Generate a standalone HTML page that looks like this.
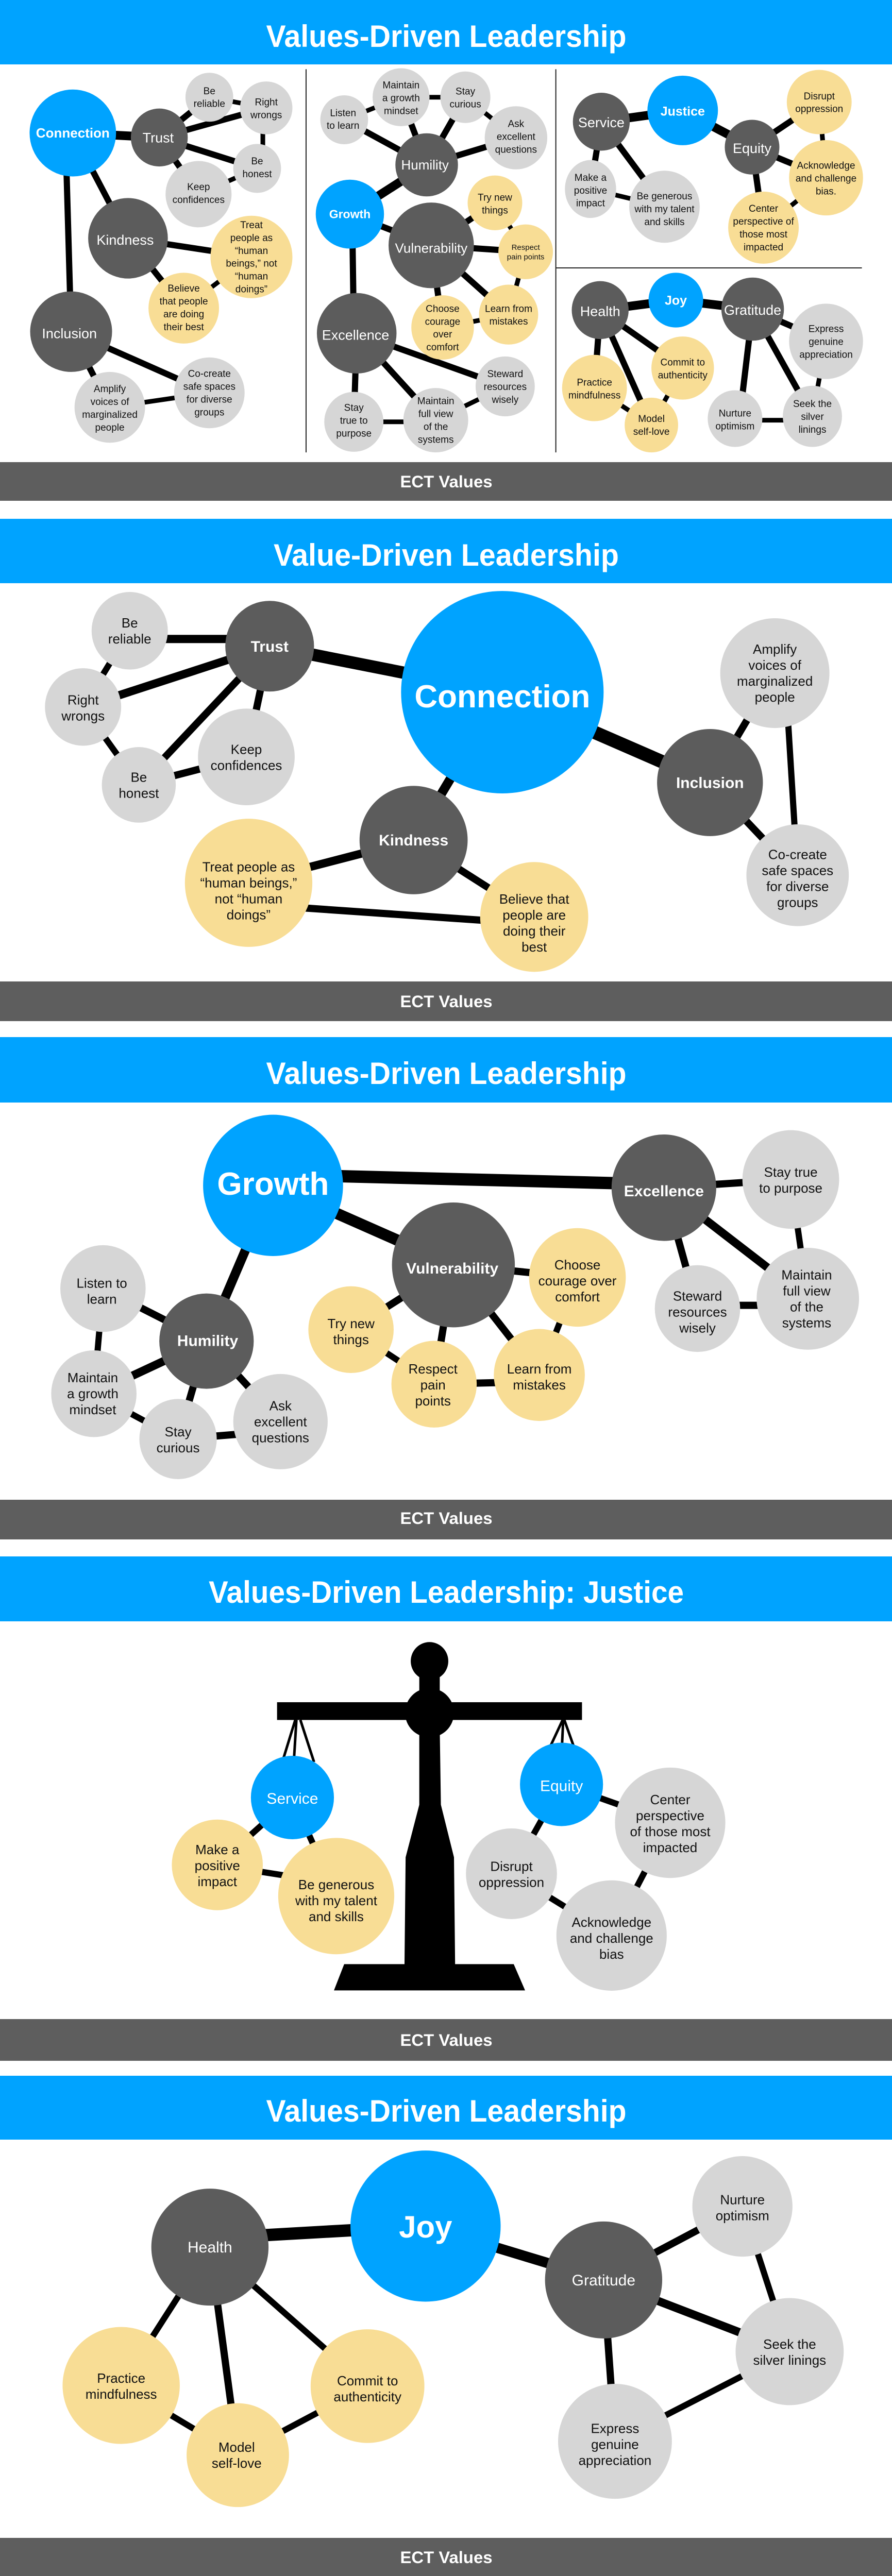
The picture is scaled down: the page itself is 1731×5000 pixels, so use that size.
<!DOCTYPE html>
<html><head><meta charset="utf-8">
<style>
html,body{margin:0;padding:0;background:#fff;}
svg{display:block;}
text{font-family:"Liberation Sans Narrow","Liberation Sans",Arial,sans-serif;text-anchor:middle;}
.w{fill:#fff}.k{fill:#111}.b{font-weight:bold}
.e line{stroke:#000;vector-effect:non-scaling-stroke;stroke-width:12}
.e line.t{stroke-width:17}
.e line.n{stroke-width:9}
.bl{fill:#00a3ff}.dk{fill:#5c5c5c}.gr{fill:#d6d6d6}.ye{fill:#f8dd95}
</style></head><body>
<svg width="1731" height="5000" viewBox="0 0 1731 5000" xmlns="http://www.w3.org/2000/svg">
<rect width="1731" height="5000" fill="#fff"/>
<!-- bars -->
<rect x="0" y="0" width="1731" height="125" fill="#00a3ff"/>
<rect x="0" y="897" width="1731" height="75" fill="#5e5e5e"/>
<rect x="0" y="1007" width="1731" height="125" fill="#00a3ff"/>
<rect x="0" y="1905" width="1731" height="77" fill="#5e5e5e"/>
<rect x="0" y="2013" width="1731" height="127" fill="#00a3ff"/>
<rect x="0" y="2911" width="1731" height="77" fill="#5e5e5e"/>
<rect x="0" y="3021" width="1731" height="126" fill="#00a3ff"/>
<rect x="0" y="3919" width="1731" height="81" fill="#5e5e5e"/>
<rect x="0" y="4029" width="1731" height="124" fill="#00a3ff"/>
<rect x="0" y="4926" width="1731" height="74" fill="#5e5e5e"/>
<g class="w b">
<text x="866" y="91" font-size="60" textLength="699" lengthAdjust="spacingAndGlyphs">Values-Driven Leadership</text>
<text x="866" y="1098" font-size="60" textLength="670" lengthAdjust="spacingAndGlyphs">Value-Driven Leadership</text>
<text x="866" y="2104" font-size="60" textLength="699" lengthAdjust="spacingAndGlyphs">Values-Driven Leadership</text>
<text x="866" y="3111" font-size="60" textLength="922" lengthAdjust="spacingAndGlyphs">Values-Driven Leadership: Justice</text>
<text x="866" y="4118" font-size="60" textLength="699" lengthAdjust="spacingAndGlyphs">Values-Driven Leadership</text>
<text x="866" y="946" font-size="32" textLength="179" lengthAdjust="spacingAndGlyphs">ECT Values</text>
<text x="866" y="1955" font-size="32" textLength="179" lengthAdjust="spacingAndGlyphs">ECT Values</text>
<text x="866" y="2958" font-size="32" textLength="179" lengthAdjust="spacingAndGlyphs">ECT Values</text>
<text x="866" y="3971" font-size="32" textLength="179" lengthAdjust="spacingAndGlyphs">ECT Values</text>
<text x="866" y="4975" font-size="32" textLength="179" lengthAdjust="spacingAndGlyphs">ECT Values</text>
</g>

<!-- PANEL 1 -->
<g transform="translate(0,0) scale(1.104,0.625)">
<line x1="538" y1="215" x2="538" y2="1405" stroke="#222" stroke-width="2" vector-effect="non-scaling-stroke"/>
<line x1="977" y1="215" x2="977" y2="1405" stroke="#222" stroke-width="2" vector-effect="non-scaling-stroke"/>
<line x1="977" y1="832" x2="1515" y2="832" stroke="#222" stroke-width="2" vector-effect="non-scaling-stroke"/>
<g class="e">
<line class="t" x1="128" y1="413" x2="280" y2="427"/>
<line x1="128" y1="413" x2="225" y2="740"/>
<line x1="115" y1="413" x2="125" y2="1030"/>
<line x1="280" y1="427" x2="368" y2="302"/>
<line x1="280" y1="427" x2="468" y2="335"/>
<line x1="280" y1="427" x2="452" y2="523"/>
<line x1="280" y1="427" x2="349" y2="603"/>
<line class="n" x1="368" y1="302" x2="468" y2="335"/>
<line class="n" x1="462" y1="335" x2="462" y2="523"/>
<line class="n" x1="349" y1="603" x2="452" y2="523"/>
<line x1="225" y1="740" x2="442" y2="798"/>
<line x1="225" y1="740" x2="323" y2="957"/>
<line class="n" x1="323" y1="957" x2="442" y2="798"/>
<line x1="125" y1="1030" x2="193" y2="1265"/>
<line x1="125" y1="1030" x2="368" y2="1220"/>
<line class="n" x1="193" y1="1265" x2="368" y2="1220"/>
<line class="n" x1="605" y1="372" x2="705" y2="302"/>
<line class="n" x1="705" y1="302" x2="818" y2="302"/>
<line class="n" x1="818" y1="302" x2="907" y2="428"/>
<line x1="605" y1="372" x2="750" y2="512"/>
<line x1="705" y1="302" x2="750" y2="512"/>
<line x1="818" y1="302" x2="750" y2="512"/>
<line x1="907" y1="428" x2="750" y2="512"/>
<line class="t" x1="750" y1="512" x2="615" y2="665"/>
<line x1="615" y1="665" x2="758" y2="762"/>
<line x1="619" y1="665" x2="622" y2="1035"/>
<line x1="758" y1="762" x2="870" y2="630"/>
<line x1="758" y1="762" x2="924" y2="782"/>
<line x1="758" y1="762" x2="778" y2="1017"/>
<line x1="758" y1="762" x2="894" y2="977"/>
<line class="n" x1="870" y1="630" x2="924" y2="782"/>
<line class="n" x1="924" y1="782" x2="894" y2="977"/>
<line class="n" x1="778" y1="1017" x2="894" y2="977"/>
<line x1="627" y1="1035" x2="888" y2="1200"/>
<line x1="627" y1="1035" x2="622" y2="1310"/>
<line x1="627" y1="1035" x2="766" y2="1305"/>
<line class="n" x1="622" y1="1310" x2="766" y2="1310"/>
<line class="n" x1="766" y1="1305" x2="888" y2="1200"/>
<line class="t" x1="1057" y1="378" x2="1200" y2="343"/>
<line class="t" x1="1200" y1="343" x2="1322" y2="457"/>
<line x1="1057" y1="378" x2="1038" y2="587"/>
<line x1="1057" y1="378" x2="1168" y2="642"/>
<line class="n" x1="1038" y1="587" x2="1168" y2="642"/>
<line x1="1322" y1="457" x2="1440" y2="317"/>
<line x1="1322" y1="457" x2="1452" y2="552"/>
<line x1="1322" y1="457" x2="1342" y2="707"/>
<line class="n" x1="1440" y1="317" x2="1452" y2="552"/>
<line class="n" x1="1452" y1="552" x2="1342" y2="707"/>
<line class="t" x1="1055" y1="963" x2="1188" y2="932"/>
<line class="t" x1="1188" y1="932" x2="1323" y2="960"/>
<line x1="1323" y1="960" x2="1452" y2="1060"/>
<line x1="1323" y1="960" x2="1428" y2="1293"/>
<line x1="1323" y1="960" x2="1300" y2="1300"/>
<line class="n" x1="1292" y1="1305" x2="1428" y2="1305"/>
<line class="n" x1="1452" y1="1060" x2="1428" y2="1293"/>
<line x1="1055" y1="963" x2="1045" y2="1205"/>
<line x1="1055" y1="963" x2="1145" y2="1320"/>
<line x1="1055" y1="963" x2="1200" y2="1143"/>
<line class="n" x1="1045" y1="1205" x2="1145" y2="1320"/>
<line class="n" x1="1145" y1="1320" x2="1200" y2="1143"/>
</g>
<ellipse class="bl" cx="128" cy="413" rx="76" ry="135"/>
<ellipse class="dk" cx="280" cy="427" rx="50" ry="90"/>
<ellipse class="gr" cx="368" cy="302" rx="42" ry="76"/>
<ellipse class="gr" cx="468" cy="335" rx="46" ry="82"/>
<ellipse class="gr" cx="452" cy="523" rx="42" ry="76"/>
<ellipse class="gr" cx="349" cy="603" rx="58" ry="103"/>
<ellipse class="dk" cx="225" cy="740" rx="70" ry="125"/>
<ellipse class="ye" cx="442" cy="798" rx="72" ry="128"/>
<ellipse class="ye" cx="323" cy="957" rx="62" ry="110"/>
<ellipse class="dk" cx="125" cy="1030" rx="72" ry="125"/>
<ellipse class="gr" cx="193" cy="1265" rx="62" ry="110"/>
<ellipse class="gr" cx="368" cy="1220" rx="62" ry="110"/>
<ellipse class="gr" cx="605" cy="372" rx="42" ry="76"/>
<ellipse class="gr" cx="705" cy="302" rx="50" ry="90"/>
<ellipse class="gr" cx="818" cy="302" rx="44" ry="80"/>
<ellipse class="gr" cx="907" cy="428" rx="55" ry="98"/>
<ellipse class="dk" cx="750" cy="512" rx="55" ry="98"/>
<ellipse class="bl" cx="615" cy="665" rx="60" ry="107"/>
<ellipse class="ye" cx="870" cy="630" rx="48" ry="85"/>
<ellipse class="dk" cx="758" cy="762" rx="75" ry="133"/>
<ellipse class="ye" cx="924" cy="782" rx="48" ry="85"/>
<ellipse class="ye" cx="778" cy="1017" rx="55" ry="100"/>
<ellipse class="ye" cx="894" cy="977" rx="52" ry="93"/>
<ellipse class="dk" cx="627" cy="1035" rx="70" ry="125"/>
<ellipse class="gr" cx="888" cy="1200" rx="52" ry="93"/>
<ellipse class="gr" cx="622" cy="1310" rx="52" ry="93"/>
<ellipse class="gr" cx="766" cy="1305" rx="57" ry="100"/>
<ellipse class="dk" cx="1057" cy="378" rx="50" ry="90"/>
<ellipse class="bl" cx="1200" cy="343" rx="62" ry="108"/>
<ellipse class="dk" cx="1322" cy="457" rx="48" ry="85"/>
<ellipse class="ye" cx="1440" cy="317" rx="57" ry="100"/>
<ellipse class="ye" cx="1452" cy="552" rx="65" ry="117"/>
<ellipse class="ye" cx="1342" cy="707" rx="62" ry="112"/>
<ellipse class="gr" cx="1038" cy="587" rx="45" ry="90"/>
<ellipse class="gr" cx="1168" cy="642" rx="62" ry="112"/>
<ellipse class="dk" cx="1055" cy="963" rx="50" ry="90"/>
<ellipse class="bl" cx="1188" cy="932" rx="48" ry="85"/>
<ellipse class="dk" cx="1323" cy="960" rx="55" ry="98"/>
<ellipse class="gr" cx="1452" cy="1060" rx="65" ry="117"/>
<ellipse class="gr" cx="1428" cy="1293" rx="52" ry="95"/>
<ellipse class="gr" cx="1292" cy="1300" rx="48" ry="88"/>
<ellipse class="ye" cx="1200" cy="1143" rx="55" ry="98"/>
<ellipse class="ye" cx="1045" cy="1205" rx="57" ry="103"/>
<ellipse class="ye" cx="1145" cy="1320" rx="47" ry="85"/>
<!-- P1 text -->
<g font-size="27">
<text class="w b" font-size="26" transform="translate(128,413) scale(.906,1.6)" dy="9">Connection</text>
<text class="w" transform="translate(278,427) scale(.906,1.6)" dy="9.5">Trust</text>
<text class="w" transform="translate(220,745) scale(.906,1.6)" dy="9.5">Kindness</text>
<text class="w" transform="translate(122,1035) scale(.906,1.6)" dy="9.5">Inclusion</text>
<text class="w" font-size="26" transform="translate(747,512) scale(.906,1.6)" dy="9">Humility</text>
<text class="w b" font-size="23" transform="translate(615,665) scale(.906,1.6)" dy="8">Growth</text>
<text class="w" font-size="26" transform="translate(758,770) scale(.906,1.6)" dy="9">Vulnerability</text>
<text class="w" transform="translate(625,1040) scale(.906,1.6)" dy="9.5">Excellence</text>
<text class="w" transform="translate(1057,380) scale(.906,1.6)" dy="9.5">Service</text>
<text class="w b" font-size="25" transform="translate(1200,345) scale(.906,1.6)" dy="9">Justice</text>
<text class="w" transform="translate(1322,460) scale(.906,1.6)" dy="9.5">Equity</text>
<text class="w" transform="translate(1055,966) scale(.906,1.6)" dy="9.5">Health</text>
<text class="w b" font-size="25" transform="translate(1188,932) scale(.906,1.6)" dy="9">Joy</text>
<text class="w" transform="translate(1323,962) scale(.906,1.6)" dy="9.5">Gratitude</text>
</g>
<g font-size="19" class="k">
<text transform="translate(368,302) scale(.906,1.6)"><tspan x="0" dy="-6">Be</tspan><tspan x="0" dy="25">reliable</tspan></text>
<text transform="translate(468,337) scale(.906,1.6)"><tspan x="0" dy="-6">Right</tspan><tspan x="0" dy="25">wrongs</tspan></text>
<text transform="translate(452,520) scale(.906,1.6)"><tspan x="0" dy="-6">Be</tspan><tspan x="0" dy="25">honest</tspan></text>
<text transform="translate(349,600) scale(.906,1.6)"><tspan x="0" dy="-6">Keep</tspan><tspan x="0" dy="25">confidences</tspan></text>
<text transform="translate(442,798) scale(.906,1.6)"><tspan x="0" dy="-56">Treat</tspan><tspan x="0" dy="25">people as</tspan><tspan x="0" dy="25">“human</tspan><tspan x="0" dy="25">beings,” not</tspan><tspan x="0" dy="25">“human</tspan><tspan x="0" dy="25">doings”</tspan></text>
<text transform="translate(323,955) scale(.906,1.6)"><tspan x="0" dy="-31">Believe</tspan><tspan x="0" dy="25">that people</tspan><tspan x="0" dy="25">are doing</tspan><tspan x="0" dy="25">their best</tspan></text>
<text transform="translate(193,1267) scale(.906,1.6)"><tspan x="0" dy="-31">Amplify</tspan><tspan x="0" dy="25">voices of</tspan><tspan x="0" dy="25">marginalized</tspan><tspan x="0" dy="25">people</tspan></text>
<text transform="translate(368,1220) scale(.906,1.6)"><tspan x="0" dy="-31">Co-create</tspan><tspan x="0" dy="25">safe spaces</tspan><tspan x="0" dy="25">for diverse</tspan><tspan x="0" dy="25">groups</tspan></text>
<text transform="translate(603,370) scale(.906,1.6)"><tspan x="0" dy="-6">Listen</tspan><tspan x="0" dy="25">to learn</tspan></text>
<text transform="translate(705,303) scale(.906,1.6)"><tspan x="0" dy="-18">Maintain</tspan><tspan x="0" dy="25">a growth</tspan><tspan x="0" dy="25">mindset</tspan></text>
<text transform="translate(818,303) scale(.906,1.6)"><tspan x="0" dy="-6">Stay</tspan><tspan x="0" dy="25">curious</tspan></text>
<text transform="translate(907,423) scale(.906,1.6)"><tspan x="0" dy="-18">Ask</tspan><tspan x="0" dy="25">excellent</tspan><tspan x="0" dy="25">questions</tspan></text>
<text transform="translate(870,633) scale(.906,1.6)"><tspan x="0" dy="-6">Try new</tspan><tspan x="0" dy="25">things</tspan></text>
<text font-size="15" transform="translate(924,782) scale(.906,1.6)"><tspan x="0" dy="-4">Respect</tspan><tspan x="0" dy="19">pain points</tspan></text>
<text transform="translate(778,1018) scale(.906,1.6)"><tspan x="0" dy="-31">Choose</tspan><tspan x="0" dy="25">courage</tspan><tspan x="0" dy="25">over</tspan><tspan x="0" dy="25">comfort</tspan></text>
<text transform="translate(894,978) scale(.906,1.6)"><tspan x="0" dy="-6">Learn from</tspan><tspan x="0" dy="25">mistakes</tspan></text>
<text transform="translate(888,1200) scale(.906,1.6)"><tspan x="0" dy="-18">Steward</tspan><tspan x="0" dy="25">resources</tspan><tspan x="0" dy="25">wisely</tspan></text>
<text transform="translate(622,1305) scale(.906,1.6)"><tspan x="0" dy="-18">Stay</tspan><tspan x="0" dy="25">true to</tspan><tspan x="0" dy="25">purpose</tspan></text>
<text transform="translate(766,1305) scale(.906,1.6)"><tspan x="0" dy="-31">Maintain</tspan><tspan x="0" dy="25">full view</tspan><tspan x="0" dy="25">of the</tspan><tspan x="0" dy="25">systems</tspan></text>
<text transform="translate(1038,590) scale(.906,1.6)"><tspan x="0" dy="-18">Make a</tspan><tspan x="0" dy="25">positive</tspan><tspan x="0" dy="25">impact</tspan></text>
<text transform="translate(1168,648) scale(.906,1.6)"><tspan x="0" dy="-18">Be generous</tspan><tspan x="0" dy="25">with my talent</tspan><tspan x="0" dy="25">and skills</tspan></text>
<text transform="translate(1440,318) scale(.906,1.6)"><tspan x="0" dy="-6">Disrupt</tspan><tspan x="0" dy="25">oppression</tspan></text>
<text transform="translate(1452,553) scale(.906,1.6)"><tspan x="0" dy="-18">Acknowledge</tspan><tspan x="0" dy="25">and challenge</tspan><tspan x="0" dy="25">bias.</tspan></text>
<text transform="translate(1342,707) scale(.906,1.6)"><tspan x="0" dy="-31">Center</tspan><tspan x="0" dy="25">perspective of</tspan><tspan x="0" dy="25">those most</tspan><tspan x="0" dy="25">impacted</tspan></text>
<text transform="translate(1452,1060) scale(.906,1.6)"><tspan x="0" dy="-18">Express</tspan><tspan x="0" dy="25">genuine</tspan><tspan x="0" dy="25">appreciation</tspan></text>
<text transform="translate(1428,1293) scale(.906,1.6)"><tspan x="0" dy="-18">Seek the</tspan><tspan x="0" dy="25">silver</tspan><tspan x="0" dy="25">linings</tspan></text>
<text transform="translate(1292,1303) scale(.906,1.6)"><tspan x="0" dy="-6">Nurture</tspan><tspan x="0" dy="25">optimism</tspan></text>
<text transform="translate(1200,1145) scale(.906,1.6)"><tspan x="0" dy="-6">Commit to</tspan><tspan x="0" dy="25">authenticity</tspan></text>
<text transform="translate(1045,1207) scale(.906,1.6)"><tspan x="0" dy="-6">Practice</tspan><tspan x="0" dy="25">mindfulness</tspan></text>
<text transform="translate(1145,1320) scale(.906,1.6)"><tspan x="0" dy="-6">Model</tspan><tspan x="0" dy="25">self-love</tspan></text>
</g>
</g>

<!-- PANEL 2 -->
<g transform="translate(0,980) scale(1.104,0.6378)">
<g class="e">
<line style="stroke-width:16" x1="228" y1="408" x2="474" y2="408"/>
<line style="stroke-width:12" x1="228" y1="383" x2="146" y2="615"/>
<line style="stroke-width:16" x1="146" y1="615" x2="474" y2="430"/>
<line style="stroke-width:12" x1="146" y1="615" x2="244" y2="852"/>
<line style="stroke-width:14" x1="474" y1="430" x2="244" y2="852"/>
<line style="stroke-width:14" x1="474" y1="430" x2="433" y2="767"/>
<line style="stroke-width:14" x1="244" y1="852" x2="433" y2="767"/>
<line style="stroke-width:24" x1="474" y1="430" x2="883" y2="570"/>
<line style="stroke-width:26" x1="883" y1="570" x2="1248" y2="845"/>
<line style="stroke-width:18" x1="883" y1="570" x2="727" y2="1020"/>
<line style="stroke-width:14" x1="1248" y1="845" x2="1362" y2="512"/>
<line style="stroke-width:14" x1="1248" y1="845" x2="1402" y2="1127"/>
<line style="stroke-width:12" x1="1380" y1="512" x2="1402" y2="1127"/>
<line style="stroke-width:16" x1="727" y1="1020" x2="437" y2="1150"/>
<line style="stroke-width:14" x1="727" y1="1020" x2="939" y2="1254"/>
<line style="stroke-width:14" x1="437" y1="1215" x2="939" y2="1275"/>
</g>
<ellipse class="gr" cx="228" cy="383" rx="67" ry="118"/>
<ellipse class="gr" cx="146" cy="615" rx="67" ry="118"/>
<ellipse class="gr" cx="244" cy="852" rx="65" ry="115"/>
<ellipse class="gr" cx="433" cy="767" rx="85" ry="147"/>
<ellipse class="dk" cx="474" cy="430" rx="78" ry="138"/>
<ellipse class="bl" cx="883" cy="570" rx="178" ry="308"/>
<ellipse class="dk" cx="1248" cy="845" rx="93" ry="163"/>
<ellipse class="gr" cx="1362" cy="512" rx="96" ry="167"/>
<ellipse class="gr" cx="1402" cy="1127" rx="90" ry="155"/>
<ellipse class="dk" cx="727" cy="1020" rx="95" ry="165"/>
<ellipse class="ye" cx="437" cy="1150" rx="112" ry="195"/>
<ellipse class="ye" cx="939" cy="1254" rx="95" ry="167"/>
<text class="w b" font-size="62" transform="translate(883,582) scale(.906,1.568)" dy="22">Connection</text>
<g class="w b" font-size="30">
<text transform="translate(474,430) scale(.906,1.568)" dy="10.5">Trust</text>
<text transform="translate(1248,845) scale(.906,1.568)" dy="10.5">Inclusion</text>
<text transform="translate(727,1020) scale(.906,1.568)" dy="10.5">Kindness</text>
</g>
<g class="k" font-size="26">
<text transform="translate(228,383) scale(.906,1.568)"><tspan x="0" dy="-6.5">Be</tspan><tspan x="0" dy="31">reliable</tspan></text>
<text transform="translate(146,618) scale(.906,1.568)"><tspan x="0" dy="-6.5">Right</tspan><tspan x="0" dy="31">wrongs</tspan></text>
<text transform="translate(244,853) scale(.906,1.568)"><tspan x="0" dy="-6.5">Be</tspan><tspan x="0" dy="31">honest</tspan></text>
<text transform="translate(433,768) scale(.906,1.568)"><tspan x="0" dy="-6.5">Keep</tspan><tspan x="0" dy="31">confidences</tspan></text>
<text transform="translate(1362,512) scale(.906,1.568)"><tspan x="0" dy="-37.5">Amplify</tspan><tspan x="0" dy="31">voices of</tspan><tspan x="0" dy="31">marginalized</tspan><tspan x="0" dy="31">people</tspan></text>
<text transform="translate(1402,1137) scale(.906,1.568)"><tspan x="0" dy="-37.5">Co-create</tspan><tspan x="0" dy="31">safe spaces</tspan><tspan x="0" dy="31">for diverse</tspan><tspan x="0" dy="31">groups</tspan></text>
<text transform="translate(437,1174) scale(.906,1.568)"><tspan x="0" dy="-37.5">Treat people as</tspan><tspan x="0" dy="31">“human beings,”</tspan><tspan x="0" dy="31">not “human</tspan><tspan x="0" dy="31">doings”</tspan></text>
<text transform="translate(939,1272) scale(.906,1.568)"><tspan x="0" dy="-37.5">Believe that</tspan><tspan x="0" dy="31">people are</tspan><tspan x="0" dy="31">doing their</tspan><tspan x="0" dy="31">best</tspan></text>
</g>
</g>

<!-- PANEL 3 -->
<g transform="translate(0,1980) scale(1.104,0.6378)">
<g class="e">
<line style="stroke-width:24" x1="480" y1="470" x2="1167" y2="500"/>
<line style="stroke-width:22" x1="480" y1="503" x2="797" y2="745"/>
<line style="stroke-width:18" x1="480" y1="503" x2="363" y2="977"/>
<line style="stroke-width:14" x1="1167" y1="510" x2="1390" y2="485"/>
<line style="stroke-width:14" x1="1167" y1="510" x2="1226" y2="878"/>
<line style="stroke-width:16" x1="1167" y1="510" x2="1420" y2="848"/>
<line style="stroke-width:12" x1="1390" y1="485" x2="1420" y2="848"/>
<line style="stroke-width:14" x1="1226" y1="868" x2="1420" y2="868"/>
<line style="stroke-width:14" x1="797" y1="745" x2="1015" y2="783"/>
<line style="stroke-width:14" x1="797" y1="745" x2="617" y2="942"/>
<line style="stroke-width:14" x1="797" y1="745" x2="763" y2="1108"/>
<line style="stroke-width:14" x1="797" y1="745" x2="948" y2="1080"/>
<line style="stroke-width:12" x1="617" y1="942" x2="763" y2="1108"/>
<line style="stroke-width:14" x1="763" y1="1108" x2="948" y2="1100"/>
<line style="stroke-width:12" x1="1015" y1="783" x2="948" y2="1080"/>
<line style="stroke-width:14" x1="363" y1="977" x2="181" y2="817"/>
<line style="stroke-width:16" x1="363" y1="977" x2="165" y2="1137"/>
<line style="stroke-width:14" x1="363" y1="977" x2="313" y2="1275"/>
<line style="stroke-width:14" x1="363" y1="977" x2="493" y2="1222"/>
<line style="stroke-width:12" x1="181" y1="817" x2="165" y2="1137"/>
<line style="stroke-width:12" x1="165" y1="1137" x2="313" y2="1275"/>
<line style="stroke-width:14" x1="313" y1="1275" x2="493" y2="1250"/>
</g>
<ellipse class="bl" cx="480" cy="503" rx="123" ry="215"/>
<ellipse class="dk" cx="1167" cy="510" rx="92" ry="162"/>
<ellipse class="gr" cx="1390" cy="485" rx="85" ry="150"/>
<ellipse class="gr" cx="1420" cy="848" rx="90" ry="155"/>
<ellipse class="gr" cx="1226" cy="878" rx="75" ry="132"/>
<ellipse class="dk" cx="797" cy="745" rx="108" ry="190"/>
<ellipse class="ye" cx="1015" cy="783" rx="85" ry="150"/>
<ellipse class="ye" cx="617" cy="942" rx="75" ry="132"/>
<ellipse class="ye" cx="763" cy="1108" rx="75" ry="132"/>
<ellipse class="ye" cx="948" cy="1080" rx="80" ry="140"/>
<ellipse class="dk" cx="363" cy="977" rx="83" ry="145"/>
<ellipse class="gr" cx="181" cy="817" rx="75" ry="132"/>
<ellipse class="gr" cx="165" cy="1137" rx="75" ry="132"/>
<ellipse class="gr" cx="313" cy="1275" rx="68" ry="122"/>
<ellipse class="gr" cx="493" cy="1222" rx="83" ry="145"/>
<text class="w b" font-size="62" transform="translate(480,497) scale(.906,1.568)" dy="22">Growth</text>
<g class="w b" font-size="30">
<text transform="translate(1167,520) scale(.906,1.568)" dy="10.5">Excellence</text>
<text transform="translate(795,755) scale(.906,1.568)" dy="10.5">Vulnerability</text>
<text transform="translate(365,975) scale(.906,1.568)" dy="10.5">Humility</text>
</g>
<g class="k" font-size="26">
<text transform="translate(1390,487) scale(.906,1.568)"><tspan x="0" dy="-6.5">Stay true</tspan><tspan x="0" dy="31">to purpose</tspan></text>
<text transform="translate(1418,848) scale(.906,1.568)"><tspan x="0" dy="-37.5">Maintain</tspan><tspan x="0" dy="31">full view</tspan><tspan x="0" dy="31">of the</tspan><tspan x="0" dy="31">systems</tspan></text>
<text transform="translate(1226,888) scale(.906,1.568)"><tspan x="0" dy="-22">Steward</tspan><tspan x="0" dy="31">resources</tspan><tspan x="0" dy="31">wisely</tspan></text>
<text transform="translate(1015,793) scale(.906,1.568)"><tspan x="0" dy="-22">Choose</tspan><tspan x="0" dy="31">courage over</tspan><tspan x="0" dy="31">comfort</tspan></text>
<text transform="translate(617,948) scale(.906,1.568)"><tspan x="0" dy="-6.5">Try new</tspan><tspan x="0" dy="31">things</tspan></text>
<text transform="translate(761,1110) scale(.906,1.568)"><tspan x="0" dy="-22">Respect</tspan><tspan x="0" dy="31">pain</tspan><tspan x="0" dy="31">points</tspan></text>
<text transform="translate(948,1086) scale(.906,1.568)"><tspan x="0" dy="-6.5">Learn from</tspan><tspan x="0" dy="31">mistakes</tspan></text>
<text transform="translate(179,825) scale(.906,1.568)"><tspan x="0" dy="-6.5">Listen to</tspan><tspan x="0" dy="31">learn</tspan></text>
<text transform="translate(163,1137) scale(.906,1.568)"><tspan x="0" dy="-22">Maintain</tspan><tspan x="0" dy="31">a growth</tspan><tspan x="0" dy="31">mindset</tspan></text>
<text transform="translate(313,1277) scale(.906,1.568)"><tspan x="0" dy="-6.5">Stay</tspan><tspan x="0" dy="31">curious</tspan></text>
<text transform="translate(493,1222) scale(.906,1.568)"><tspan x="0" dy="-22">Ask</tspan><tspan x="0" dy="31">excellent</tspan><tspan x="0" dy="31">questions</tspan></text>
</g>
</g>

<!-- PANEL 4 -->
<g transform="translate(0,2980) scale(1.104,0.6378)">
<ellipse cx="755" cy="383" rx="33" ry="58" fill="#000"/>
<rect x="737" y="420" width="36" height="70" fill="#000"/>
<rect x="487" y="508" width="536" height="54" fill="#000"/>
<ellipse cx="755" cy="540" rx="43" ry="75" fill="#000"/>
<polygon points="737,590 773,590 775,820 798,980 800,1310 711,1310 713,980 737,820" fill="#000"/>
<polygon points="605,1305 903,1305 923,1385 587,1385" fill="#000"/>
<g stroke="#000" stroke-width="5">
<line x1="519" y1="562" x2="498" y2="680" vector-effect="non-scaling-stroke"/>
<line x1="521" y1="562" x2="517" y2="675" vector-effect="non-scaling-stroke"/>
<line x1="528" y1="562" x2="552" y2="690" vector-effect="non-scaling-stroke"/>
<line x1="989" y1="562" x2="968" y2="640" vector-effect="non-scaling-stroke"/>
<line x1="990" y1="562" x2="988" y2="635" vector-effect="non-scaling-stroke"/>
<line x1="992" y1="562" x2="1008" y2="640" vector-effect="non-scaling-stroke"/>
</g>
<g class="e">
<line style="stroke-width:12" x1="514" y1="798" x2="382" y2="1003"/>
<line style="stroke-width:12" x1="514" y1="798" x2="591" y2="1098"/>
<line style="stroke-width:12" x1="382" y1="1003" x2="591" y2="1060"/>
<line style="stroke-width:12" x1="987" y1="758" x2="1178" y2="875"/>
<line style="stroke-width:12" x1="987" y1="758" x2="899" y2="1030"/>
<line style="stroke-width:12" x1="899" y1="1030" x2="1075" y2="1218"/>
<line style="stroke-width:12" x1="1178" y1="875" x2="1075" y2="1218"/>
</g>
<ellipse class="bl" cx="514" cy="798" rx="73" ry="127"/>
<ellipse class="ye" cx="382" cy="1003" rx="80" ry="138"/>
<ellipse class="ye" cx="591" cy="1098" rx="102" ry="177"/>
<ellipse class="bl" cx="987" cy="758" rx="73" ry="127"/>
<ellipse class="gr" cx="899" cy="1030" rx="80" ry="138"/>
<ellipse class="gr" cx="1178" cy="875" rx="97" ry="168"/>
<ellipse class="gr" cx="1075" cy="1218" rx="97" ry="168"/>
<g class="w" font-size="30">
<text transform="translate(514,800) scale(.906,1.568)" dy="10.5">Service</text>
<text transform="translate(987,762) scale(.906,1.568)" dy="10.5">Equity</text>
</g>
<g class="k" font-size="26">
<text transform="translate(382,1005) scale(.906,1.568)"><tspan x="0" dy="-22">Make a</tspan><tspan x="0" dy="31">positive</tspan><tspan x="0" dy="31">impact</tspan></text>
<text transform="translate(591,1112) scale(.906,1.568)"><tspan x="0" dy="-22">Be generous</tspan><tspan x="0" dy="31">with my talent</tspan><tspan x="0" dy="31">and skills</tspan></text>
<text transform="translate(899,1032) scale(.906,1.568)"><tspan x="0" dy="-6.5">Disrupt</tspan><tspan x="0" dy="31">oppression</tspan></text>
<text transform="translate(1178,877) scale(.906,1.568)"><tspan x="0" dy="-37.5">Center</tspan><tspan x="0" dy="31">perspective</tspan><tspan x="0" dy="31">of those most</tspan><tspan x="0" dy="31">impacted</tspan></text>
<text transform="translate(1075,1226) scale(.906,1.568)"><tspan x="0" dy="-22">Acknowledge</tspan><tspan x="0" dy="31">and challenge</tspan><tspan x="0" dy="31">bias</tspan></text>
</g>
</g>

<!-- PANEL 5 -->
<g transform="translate(0,4000) scale(1.104,0.6378)">
<g class="e">
<line style="stroke-width:24" x1="369" y1="540" x2="748" y2="503"/>
<line style="stroke-width:20" x1="748" y1="503" x2="1061" y2="667"/>
<line style="stroke-width:14" x1="1061" y1="667" x2="1305" y2="443"/>
<line style="stroke-width:16" x1="1061" y1="667" x2="1388" y2="885"/>
<line style="stroke-width:14" x1="1061" y1="667" x2="1081" y2="1158"/>
<line style="stroke-width:12" x1="1305" y1="443" x2="1388" y2="885"/>
<line style="stroke-width:12" x1="1388" y1="885" x2="1081" y2="1158"/>
<line style="stroke-width:12" x1="369" y1="567" x2="213" y2="988"/>
<line style="stroke-width:14" x1="369" y1="567" x2="418" y2="1200"/>
<line style="stroke-width:12" x1="369" y1="567" x2="646" y2="990"/>
<line style="stroke-width:12" x1="213" y1="988" x2="418" y2="1200"/>
<line style="stroke-width:12" x1="418" y1="1200" x2="646" y2="990"/>
</g>
<ellipse class="dk" cx="369" cy="567" rx="103" ry="178"/>
<ellipse class="bl" cx="748" cy="503" rx="132" ry="230"/>
<ellipse class="dk" cx="1061" cy="667" rx="103" ry="178"/>
<ellipse class="gr" cx="1305" cy="443" rx="88" ry="153"/>
<ellipse class="gr" cx="1388" cy="885" rx="95" ry="163"/>
<ellipse class="gr" cx="1081" cy="1158" rx="100" ry="175"/>
<ellipse class="ye" cx="213" cy="988" rx="103" ry="178"/>
<ellipse class="ye" cx="418" cy="1200" rx="90" ry="158"/>
<ellipse class="ye" cx="646" cy="990" rx="100" ry="173"/>
<text class="w b" font-size="60" transform="translate(748,505) scale(.906,1.568)" dy="21">Joy</text>
<g class="w" font-size="30">
<text transform="translate(369,567) scale(.906,1.568)" dy="10.5">Health</text>
<text transform="translate(1061,667) scale(.906,1.568)" dy="10.5">Gratitude</text>
</g>
<g class="k" font-size="26">
<text transform="translate(1305,447) scale(.906,1.568)"><tspan x="0" dy="-6.5">Nurture</tspan><tspan x="0" dy="31">optimism</tspan></text>
<text transform="translate(1388,887) scale(.906,1.568)"><tspan x="0" dy="-6.5">Seek the</tspan><tspan x="0" dy="31">silver linings</tspan></text>
<text transform="translate(1081,1167) scale(.906,1.568)"><tspan x="0" dy="-22">Express</tspan><tspan x="0" dy="31">genuine</tspan><tspan x="0" dy="31">appreciation</tspan></text>
<text transform="translate(213,990) scale(.906,1.568)"><tspan x="0" dy="-6.5">Practice</tspan><tspan x="0" dy="31">mindfulness</tspan></text>
<text transform="translate(416,1200) scale(.906,1.568)"><tspan x="0" dy="-6.5">Model</tspan><tspan x="0" dy="31">self-love</tspan></text>
<text transform="translate(646,998) scale(.906,1.568)"><tspan x="0" dy="-6.5">Commit to</tspan><tspan x="0" dy="31">authenticity</tspan></text>
</g>
</g>
</svg>
</body></html>
